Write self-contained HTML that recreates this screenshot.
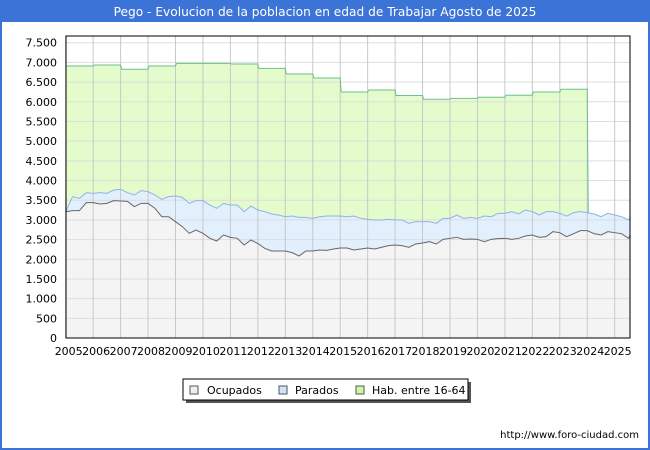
<!DOCTYPE html>
<html><head><meta charset="utf-8"><style>
body{margin:0;background:#fff;}
#wrap{position:relative;width:650px;height:450px;overflow:hidden;font-family:"DejaVu Sans","Liberation Sans",sans-serif;}
</style></head><body>
<div id="wrap">
<svg id="svg" width="650" height="450" xmlns="http://www.w3.org/2000/svg">
<rect x="0" y="0" width="650" height="450" fill="#3b74d6"/>
<rect x="2" y="22" width="646" height="426" fill="#fff"/>
<text x="325" y="16" fill="#fff" font-size="12.2" text-anchor="middle" font-family="DejaVu Sans, Liberation Sans, sans-serif">Pego - Evolucion de la poblacion en edad de Trabajar Agosto de 2025</text>
<g id="plot"></g>
<g>
<rect x="186" y="382" width="285" height="21" fill="#555"/>
<rect x="183" y="379" width="285" height="21" fill="#fff" stroke="#000" stroke-width="1"/>
<rect x="190" y="386" width="8" height="8" fill="#eeeeee" stroke="#555"/>
<text x="207" y="394" font-size="11" fill="#000">Ocupados</text>
<rect x="279" y="386" width="8" height="8" fill="#cfe4fb" stroke="#555"/>
<text x="295" y="394" font-size="11" fill="#000">Parados</text>
<rect x="356" y="386" width="8" height="8" fill="#cdf7a0" stroke="#555"/>
<text x="372" y="394" font-size="11" fill="#000">Hab. entre 16-64</text>
</g>
<text x="639" y="438" font-size="10" text-anchor="end" fill="#000">http://www.foro-ciudad.com</text>
</svg>
</div>
<script>
const habYears=[2005,2006,2007,2008,2009,2010,2011,2012,2013,2014,2015,2016,2017,2018,2019,2020,2021,2022,2023];
const habValues=[6910,6934,6825,6910,6977,6977,6960,6850,6705,6604,6248,6300,6160,6063,6088,6114,6165,6248,6317];
const qStart=2005, qStep=0.25;
const ocupados=[3208,3234,3234,3437,3437,3403,3420,3488,3480,3471,3335,3420,3420,3293,3081,3081,2954,2827,2659,2743,2659,2532,2464,2616,2557,2532,2362,2489,2400,2278,2210,2210,2210,2168,2083,2210,2210,2235,2227,2261,2286,2286,2235,2261,2286,2261,2303,2345,2362,2345,2303,2388,2413,2446,2388,2506,2532,2557,2506,2515,2506,2446,2506,2523,2532,2506,2532,2591,2616,2557,2574,2701,2675,2574,2650,2726,2726,2650,2616,2701,2675,2650,2532,2616];
const totalActivos=[3208,3590,3547,3691,3674,3691,3674,3759,3776,3691,3632,3742,3717,3632,3522,3590,3607,3573,3420,3488,3488,3378,3293,3420,3378,3378,3208,3352,3251,3210,3150,3124,3081,3098,3064,3064,3040,3081,3098,3098,3098,3081,3098,3040,3015,2998,2998,3015,2998,2998,2913,2955,2955,2955,2913,3040,3040,3124,3040,3064,3040,3098,3081,3167,3167,3210,3150,3251,3210,3124,3210,3210,3167,3098,3184,3210,3184,3150,3081,3167,3124,3081,3000,3064];
const lastT=2025.58;
const yTicks=[0,500,1000,1500,2000,2500,3000,3500,4000,4500,5000,5500,6000,6500,7000,7500];
const xTicks=[2005,2006,2007,2008,2009,2010,2011,2012,2013,2014,2015,2016,2017,2018,2019,2020,2021,2022,2023,2024,2025];

const L=66,R=630,T=36,B=338;
const X=t=>65.7+(t-2005)*27.45;
const Y=v=>B-v*0.03937;
const NS='http://www.w3.org/2000/svg';
const g=document.getElementById('plot');
function mk(tag,attrs,parent){const e=document.createElementNS(NS,tag);for(const k in attrs)e.setAttribute(k,attrs[k]);(parent||g).appendChild(e);return e;}
function tOf(i){return i===ocupados.length-1?lastT:qStart+i*qStep;}

let bg=mk('rect',{x:L,y:T,width:R-L,height:B-T,fill:'#fff'});



let habPts=[];
habYears.forEach((yr,i)=>{habPts.push([X(yr)+(i?1:0),Y(habValues[i])]);habPts.push([X(yr+1),Y(habValues[i])]);});
let hp='M'+X(2005)+','+B+' '+habPts.map(p=>'L'+p[0]+','+p[1]).join(' ')+' L'+X(2024)+','+B+'Z';
let habArea=mk('path',{d:hp,fill:'#e4fccb'});



let tp='M'+X(2005)+','+B+' '+totalActivos.map((v,i)=>'L'+X(tOf(i))+','+Y(v)).join(' ')+' L'+X(lastT)+','+B+'Z';
let parArea=mk('path',{d:tp,fill:'#e2effd'});


let op='M'+X(2005)+','+B+' '+ocupados.map((v,i)=>'L'+X(tOf(i))+','+Y(v)).join(' ')+' L'+X(lastT)+','+B+'Z';
let ocArea=mk('path',{d:op,fill:'#f4f4f4'});



yTicks.forEach(v=>{
  let ln=mk('line',{x1:L,x2:R,y1:Y(v),y2:Y(v),stroke:'#ddd','stroke-width':1});
  
  
  let tx=mk('text',{x:57,y:Y(v)+4,'font-size':11,'text-anchor':'end',fill:'#000'});
  tx.textContent=v.toLocaleString('de-DE');
  
  
});
xTicks.forEach(yr=>{
  let ln=mk('line',{x1:X(yr),x2:X(yr),y1:T,y2:B,stroke:'#c8c8c8','stroke-width':1});
  
  
  let tx=mk('text',{x:X(yr)+3,y:355,'font-size':11,'text-anchor':'middle',fill:'#000'});
  tx.textContent=yr;
  
  
});

let hl='M'+habPts.map(p=>p[0]+','+p[1]).join(' L')+' L'+(X(2024)+1)+','+Y(totalActivos[76]);
let habLine=mk('path',{d:hl,fill:'none',stroke:'#6cc08c','stroke-width':1});


let tl='M'+totalActivos.map((v,i)=>X(tOf(i))+','+Y(v)).join(' L');
let parLine=mk('path',{d:tl,fill:'none',stroke:'#8fb3e8','stroke-width':1});


let ol='M'+ocupados.map((v,i)=>X(tOf(i))+','+Y(v)).join(' L');
let ocLine=mk('path',{d:ol,fill:'none',stroke:'#666','stroke-width':1});



let border=mk('rect',{x:L,y:T,width:R-L,height:B-T,fill:'none',stroke:'#000','stroke-width':1});


</script>
</body></html>
